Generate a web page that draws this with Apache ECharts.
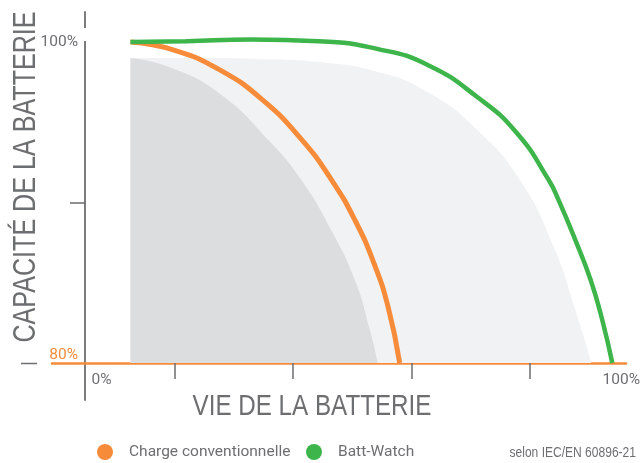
<!DOCTYPE html>
<html>
<head>
<meta charset="utf-8">
<script src="https://cdn.jsdelivr.net/npm/echarts@6/dist/echarts.min.js"></script>
<style>
html,body{margin:0;padding:0;background:#fff;}
#chart{width:643px;height:463px;}
</style>
</head>
<body>
<div id="chart"></div>
<script>
// vie de la batterie (%) / capacité (%)
var lifeConv = [8.66, 16.9, 25.6, 33.7, 41.2, 46.8, 51.2, 54.8, 57.5, 59.7];
var capConv = [100.0, 99.5, 98.26, 96.39, 93.89, 91.4, 88.91, 86.23, 83.49, 80.0];
var lifeBatt = [8.66, 19.2, 31.6, 44.3, 55.6, 65.0, 74.4, 81.9, 87.95, 89.8, 93.0, 95.9, 98.1, 100];
var capBatt = [100.0, 100.05, 100.15, 100.05, 99.56, 98.57, 96.57, 94.33, 91.4, 90.16, 87.66, 85.17, 82.68, 80.0];
var lifeLight = [8.66, 21.7, 33.0, 44.3, 55.6, 65.0, 74.4, 82.5, 88.9, 93.0, 96.05];
var capLight = [99.0, 99.0, 98.94, 98.75, 98.13, 96.88, 94.52, 91.4, 87.23, 83.3, 80.0];
var lifeDark = [8.66, 16.0, 25.4, 34.8, 41.05, 46.7, 51.2, 54.05, 55.56];
var capDark = [99.0, 98.44, 96.82, 93.89, 91.4, 88.29, 85.17, 82.06, 80.0];
var xTicks = [17.1, 39.5, 62.0, 84.3];
var xLabels = ['0%', '100%'];
var yLabels = ['80%', '100%'];
var capBase = 80;

var orange = '#f68b3a';
var green = '#3db54b';
var grey = '#6d6e71';
var font = '"Liberation Sans", Arial, sans-serif';
var labelFont = 'Roboto, "Liberation Sans", sans-serif';

function pts(life, cap){
	var out = [];
	for(var i = 0; i < life.length; i++){
		out.push([life[i], cap[i] - capBase]);
	}
	return out;
}

var chart = echarts.init(document.getElementById('chart'));
chart.setOption({
	animation:false,
	grid:{left:52, right:13, top:12, bottom:63},
	legend:[
		{
			left:92, top:439, icon:'circle', itemWidth:16, itemHeight:16,
			data:['Charge conventionnelle'],
			textStyle:{fontSize:15.5, color:grey, fontFamily:labelFont, padding:[0,0,0,11]}
		},
		{
			left:301, top:439, icon:'circle', itemWidth:16, itemHeight:16,
			data:['Batt-Watch'],
			textStyle:{fontSize:15.5, color:grey, fontFamily:labelFont, padding:[0,0,0,11]}
		}
	],
	xAxis:{
		type:'value',
		min:-6.21, max:102.6,
		offset:-37,
		splitLine:{show:false},
		axisLine:{onZero:false, lineStyle:{color:orange, width:2.5}},
		axisTick:{show:true, customValues:xTicks, length:16, lineStyle:{color:grey, width:1.5}},
		axisLabel:{
			customValues:[3.2, 101.7],
			formatter:function(v){ return v < 50 ? xLabels[0] : xLabels[1]; },
			margin:9, color:grey, fontSize:15.5, fontFamily:labelFont
		}
	},
	yAxis:{
		type:'value',
		min:-2.305, max:21.87,
		offset:-33,
		splitLine:{show:false},
		axisLine:{onZero:false, lineStyle:{color:grey, width:1.8}},
		axisTick:{show:true, customValues:[10], length:15, lineStyle:{color:grey, width:1.5}},
		axisLabel:{
			customValues:[0, 20],
			margin:7,
			formatter:function(v){ return v < 10 ? '{o|' + yLabels[0] + '}' : yLabels[1]; },
			color:grey, fontSize:15.5, fontFamily:labelFont,
			rich:{o:{color:orange, fontSize:15.5, fontFamily:labelFont, padding:[0,0,16,0]}}
		}
	},
	series:[
		{
			name:'zone1', type:'line', data:pts(lifeLight, capLight),
			smooth:0.5, symbol:'none', silent:true,
			lineStyle:{width:0}, areaStyle:{color:'#f1f2f4', opacity:1}, z:1
		},
		{
			name:'zone2', type:'line', data:pts(lifeDark, capDark),
			smooth:0.5, symbol:'none', silent:true,
			lineStyle:{width:0}, areaStyle:{color:'#dcdddf', opacity:1}, z:2
		},
		{
			name:'Charge conventionnelle', type:'line', data:pts(lifeConv, capConv),
			color:orange, smooth:0.5, symbol:'none',
			lineStyle:{color:orange, width:5}, z:3
		},
		{
			name:'Batt-Watch', type:'line', data:pts(lifeBatt, capBatt),
			color:green, smooth:0.5, symbol:'none',
			lineStyle:{color:green, width:4.5}, z:4
		}
	],
	graphic:[
		{type:'rect', shape:{x:83, y:28, width:5, height:13}, style:{fill:'#fff'}, z:100},
		{type:'line', shape:{x1:21, y1:363.5, x2:37, y2:363.5}, style:{stroke:grey, lineWidth:1.5}},
		{
			type:'text', x:26, y:177, rotation:Math.PI/2, scaleX:0.81,
			style:{text:'CAPACITÉ DE LA BATTERIE', fontSize:31, fontFamily:font, fill:grey, align:'center', verticalAlign:'middle'}
		},
		{
			type:'text', x:312, y:406.5, scaleX:0.82,
			style:{text:'VIE DE LA BATTERIE', fontSize:29.5, fontFamily:font, fill:grey, align:'center', verticalAlign:'middle'}
		},
		{
			type:'text', x:636, y:453, scaleX:0.86,
			style:{text:'selon IEC/EN 60896-21', fontSize:14, fontFamily:font, fill:grey, align:'right', verticalAlign:'middle'}
		}
	]
});
</script>
</body>
</html>
